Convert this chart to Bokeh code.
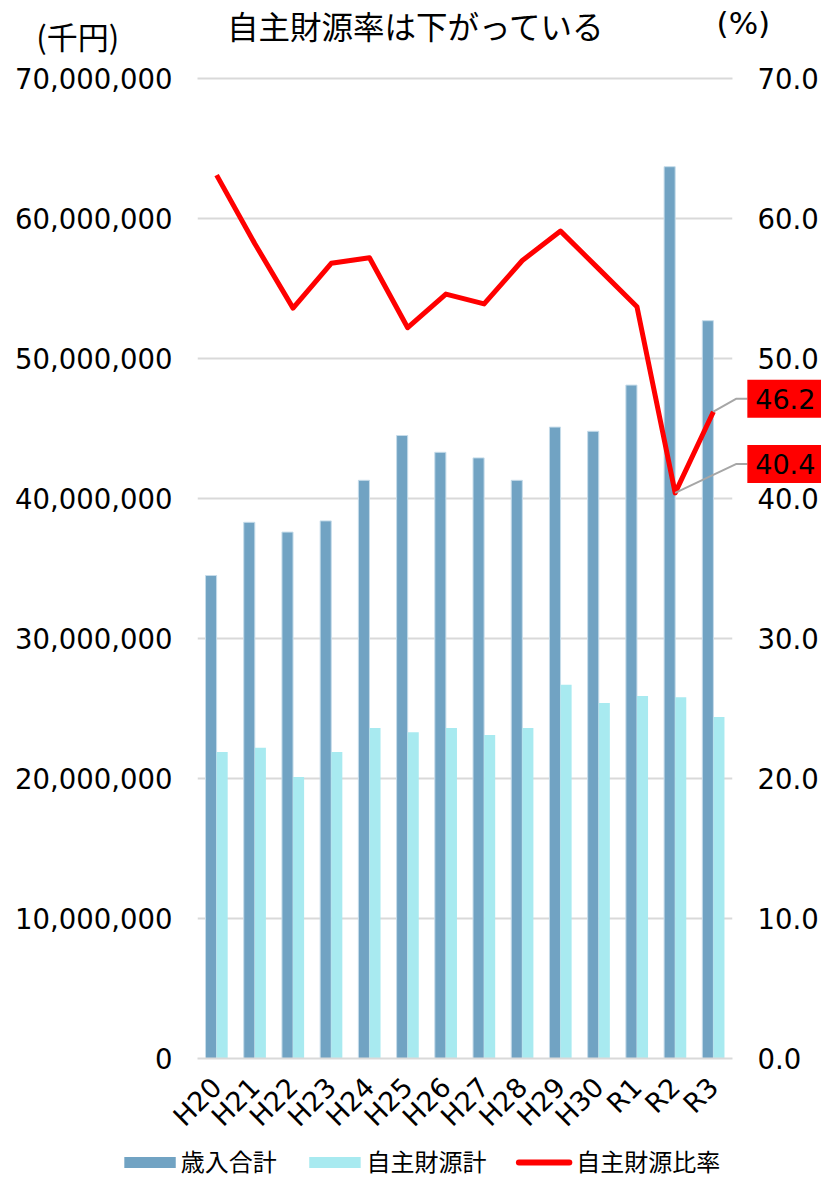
import math
from bokeh.plotting import figure
from bokeh.models import Range1d, LinearAxis, FactorRange, FixedTicker, NumeralTickFormatter
from bokeh.transform import dodge
from bokeh.core.properties import value
from bokeh.embed import file_html
from bokeh.resources import INLINE

# ---- data ----
years = ["H20", "H21", "H22", "H23", "H24", "H25", "H26", "H27", "H28", "H29", "H30", "R1", "R2", "R3"]
revenue_total = [34500000, 38300000, 37600000, 38400000, 41300000, 44500000, 43300000,
                 42900000, 41300000, 45100000, 44800000, 48100000, 63700000, 52700000]
own_source = [21900000, 22200000, 20100000, 21900000, 23600000, 23300000, 23600000,
              23100000, 23600000, 26700000, 25400000, 25900000, 25800000, 24400000]
own_ratio = [63.1, 58.2, 53.6, 56.8, 57.2, 52.2, 54.6, 53.9, 57.0, 59.1, 56.4, 53.7, 40.4, 46.2]
left_ticks = [0, 10000000, 20000000, 30000000, 40000000, 50000000, 60000000, 70000000]
right_ticks = [0, 10, 20, 30, 40, 50, 60, 70]
series_names = ["歳入合計", "自主財源計", "自主財源比率"]
title_text = "自主財源率は下がっている"
left_unit = "(千円)"
right_unit = "(%)"
labelled = ["R2", "R3"]

JP = "Noto Sans CJK JP"
LAT = "DejaVu Sans"
DARK = "#71a3c3"
DARK_EDGE = "#c6dcea"
LIGHT = "#a8eaf0"
RED = "#ff0000"
GRID = "#d9d9d9"
LEADER = "#a6a6a6"

W, H = 821, 1177
BL, BR, BT, BB = 197, 83, 78, 119
FW, FH = W - BL - BR, H - BT - BB
PCT_MAX = 70
n = len(years)


def sx(px):
    """canvas x (px) -> synthetic categorical x"""
    return (px - BL) / FW * n


def sy(py):
    """canvas y (px) -> percent axis value"""
    return (BT + FH - py) / FH * PCT_MAX


p = figure(width=W, height=H, x_range=FactorRange(factors=years),
           y_range=Range1d(0, 70000000), output_backend="svg", toolbar_location=None,
           min_border_left=BL, min_border_right=BR, min_border_top=BT,
           min_border_bottom=BB)
p.extra_y_ranges = {"pct": Range1d(0, PCT_MAX)}
p.outline_line_color = None

src = dict(years=years, rev=revenue_total, own=own_source, ratio=own_ratio)
p.vbar(x=dodge("years", -0.145, range=p.x_range), top="rev", width=0.29,
       source=src, fill_color=DARK, line_color=DARK_EDGE, line_width=1)
p.vbar(x=dodge("years", 0.145, range=p.x_range), top="own", width=0.29,
       source=src, fill_color=LIGHT, line_color=None)
p.line(x="years", y="ratio", source=src, y_range_name="pct",
       line_color=RED, line_width=5, line_join="round")

# grid
p.xgrid.grid_line_color = None
p.ygrid.grid_line_color = GRID
p.ygrid.grid_line_width = 2
p.hspan(y=[left_ticks[-1]], line_color=GRID, line_width=2, level="overlay")

# axes
la = p.yaxis[0]
la.ticker = FixedTicker(ticks=left_ticks)
la.formatter = NumeralTickFormatter(format="0,0")
ry = LinearAxis(y_range_name="pct", ticker=FixedTicker(ticks=right_ticks),
                formatter=NumeralTickFormatter(format="0.0"))
p.add_layout(ry, "right")
for ax, st in [(la, 19), (ry, 19)]:
    ax.axis_line_color = None
    ax.major_tick_line_color = None
    ax.minor_tick_line_color = None
    ax.major_label_text_font = LAT
    ax.major_label_text_font_size = "27.5px"
    ax.major_label_text_color = "black"
    ax.major_label_standoff = st

xa = p.xaxis[0]
xa.axis_line_color = GRID
xa.axis_line_width = 2
xa.major_tick_line_color = None
xa.minor_tick_line_color = None
xa.major_label_orientation = math.pi / 4
xa.major_label_text_font = LAT
xa.major_label_text_font_size = "27px"
xa.major_label_text_color = "black"
xa.major_label_standoff = 18

# data labels with leader lines (outside the frame -> overlay level)
idx = {y: i for i, y in enumerate(years)}
label_dy_px = {"R2": 29, "R3": 13}
ly, ltxt, lxs, lys = [], [], [], []
for name in labelled:
    i = idx[name]
    v = own_ratio[i]
    yc = v + label_dy_px[name] / FH * PCT_MAX
    lxs.append([i + 0.5, sx(742), sx(753)])
    lys.append([v, yc, yc])
    ly.append(yc)
    ltxt.append(f"{v:.1f}")
box_h = 38 / FH * PCT_MAX
p.multi_line(xs=lxs, ys=lys, y_range_name="pct", line_color=LEADER, line_width=2,
             level="overlay")
p.quad(left=[sx(753)] * len(ly), right=[sx(840)] * len(ly),
       bottom=[y - box_h / 2 for y in ly], top=[y + box_h / 2 for y in ly],
       y_range_name="pct", fill_color=RED, line_color=None, level="overlay")
p.text(x=[sx(761)] * len(ly), y=ly, text=ltxt, y_range_name="pct",
       text_font=value(LAT), text_font_size="27px", text_color="black",
       text_align="left", text_baseline="middle", level="overlay")

# titles
p.text(x=[sx(418)], y=[sy(24)], text=[title_text], y_range_name="pct",
       text_font=value(JP), text_font_size="31.5px", text_color="black",
       text_align="center", text_baseline="middle", level="overlay")
p.text(x=[sx(76)], y=[sy(35)], text=[left_unit],
       y_range_name="pct", text_font=value(JP), text_font_size="31px",
       text_color="black", text_align="center", text_baseline="middle", level="overlay")
p.text(x=[sx(749)], y=[sy(22)], text=[right_unit],
       y_range_name="pct", text_font=value(LAT), text_font_size="31px",
       text_color="black", text_align="center", text_baseline="middle", level="overlay")

# legend (drawn below the x axis)
leg_y = sy(1162)
txt_y = sy(1160)
sw_h = 11 / FH * PCT_MAX
p.quad(left=[sx(123), sx(310)], right=[sx(175), sx(362)],
       bottom=[leg_y - sw_h / 2] * 2, top=[leg_y + sw_h / 2] * 2,
       fill_color=[DARK, LIGHT], line_color=None, y_range_name="pct", level="overlay")
p.segment(x0=[sx(522)], x1=[sx(573)], y0=[leg_y], y1=[leg_y], line_color=RED,
          line_width=6, line_cap="round", y_range_name="pct", level="overlay")
p.text(x=[sx(180), sx(368), sx(580)], y=[txt_y] * 3, text=series_names,
       y_range_name="pct", text_font=value(JP), text_font_size="24px",
       text_color="black", text_align="left", text_baseline="middle", level="overlay")

open("out.html", "w").write(file_html(p, INLINE))
